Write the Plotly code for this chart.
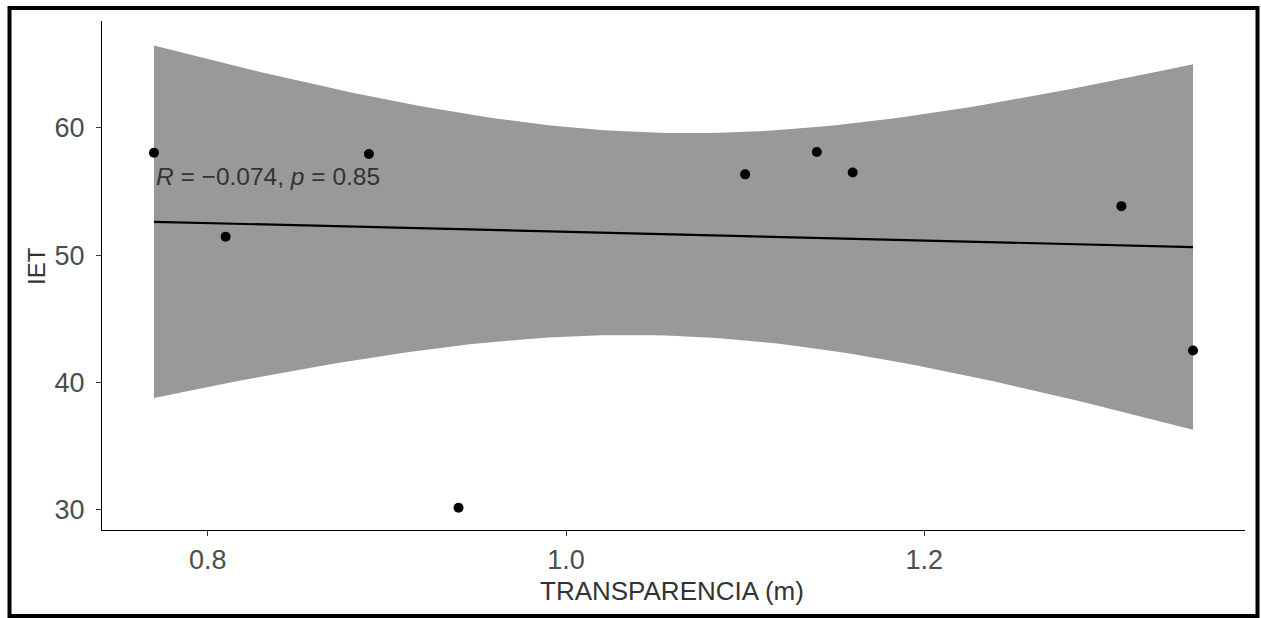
import numpy as np
import plotly.graph_objects as go

# Secchi transparency (m) and trophic state index (IET) per station
transparencia = [0.77, 0.81, 0.89, 0.94, 1.10, 1.14, 1.16, 1.31, 1.35]
iet = [58.05, 51.45, 57.95, 30.15, 56.35, 58.1, 56.5, 53.85, 42.5]

x_ticks = [0.8, 1.0, 1.2]
y_ticks = [30, 40, 50, 60]
stat_label = "<i>R</i> = \u22120.074, <i>p</i> = 0.85"

# Linear fit with 95% confidence band
x = np.array(transparencia)
y = np.array(iet)
n = len(x)
slope, intercept = np.polyfit(x, y, 1)
resid = y - (slope * x + intercept)
s = np.sqrt(np.sum(resid ** 2) / (n - 2))
t_crit = 2.3646  # t(0.975, df=7)
xs = np.linspace(x.min(), x.max(), 80)
fit = slope * xs + intercept
se = s * np.sqrt(1 / n + (xs - x.mean()) ** 2 / np.sum((x - x.mean()) ** 2))
upper = fit + t_crit * se
lower = fit - t_crit * se

fig = go.Figure()
fig.add_trace(go.Scatter(
    x=np.concatenate([xs, xs[::-1]]),
    y=np.concatenate([upper, lower[::-1]]),
    fill="toself", fillcolor="#999999", line=dict(width=0),
    mode="lines", hoverinfo="skip", showlegend=False,
))
fig.add_trace(go.Scatter(
    x=xs, y=fit, mode="lines", line=dict(color="black", width=2.2),
    showlegend=False,
))
fig.add_trace(go.Scatter(
    x=transparencia, y=iet, mode="markers",
    marker=dict(color="black", size=10), showlegend=False,
))

W, H = 1261, 618
ml, mr, mt, mb = 102, 16, 21, 88
pw, ph = W - ml - mr, H - mt - mb
FONT = "Liberation Sans, Arial, sans-serif"


def px_x(p):
    return (p - ml) / pw


def px_y(p):
    return (H - mb - p) / ph


axis_common = dict(
    showline=True, linecolor="black", linewidth=1.3,
    ticks="outside", ticklen=5, tickwidth=1.3, tickcolor="#333333",
    showgrid=False, zeroline=False,
    tickfont=dict(family=FONT, size=27, color="#4d4d4d"),
)

fig.update_layout(
    width=W, height=H,
    margin=dict(l=ml, r=mr, t=mt, b=mb, pad=0),
    paper_bgcolor="white", plot_bgcolor="white",
    xaxis=dict(range=[0.741, 1.379], tickvals=x_ticks,
               ticktext=[f"{v:.1f}" for v in x_ticks], **axis_common),
    yaxis=dict(range=[28.4, 68.4], tickvals=y_ticks, ticklabelstandoff=6,
               **axis_common),
    annotations=[
        dict(x=0.77, y=56.2, xref="x", yref="y", text=stat_label,
             showarrow=False, xanchor="left", yanchor="middle",
             font=dict(family=FONT, size=24.5, color="#333333")),
        dict(x=px_x(36), y=px_y(266), xref="paper", yref="paper", text="IET",
             showarrow=False, textangle=-90, xanchor="center", yanchor="middle",
             font=dict(family=FONT, size=24, color="#333333")),
        dict(x=px_x(672), y=px_y(591), xref="paper", yref="paper",
             text="TRANSPARENCIA (m)", showarrow=False,
             xanchor="center", yanchor="middle",
             font=dict(family=FONT, size=26, color="#333333")),
    ],
    shapes=[
        dict(type="rect", xref="paper", yref="paper",
             x0=px_x(9.5), x1=px_x(1257.5), y0=px_y(616), y1=px_y(8),
             line=dict(color="black", width=4), fillcolor="rgba(0,0,0,0)"),
    ],
)

fig.write_html("out.html")
